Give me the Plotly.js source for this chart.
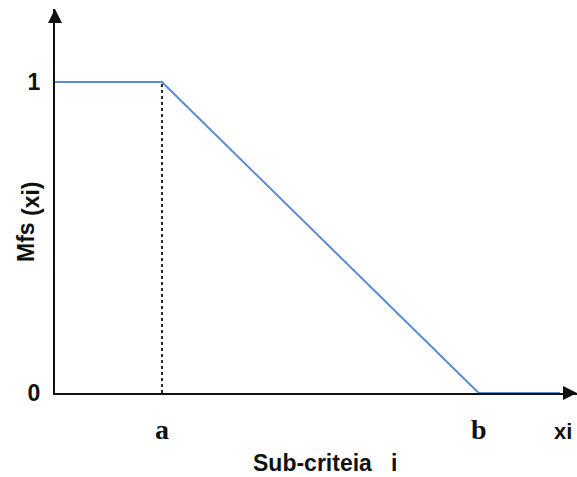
<!DOCTYPE html>
<html>
<head>
<meta charset="utf-8">
<script src="https://cdn.plot.ly/plotly-3.0.1.min.js"></script>
<style>html,body{margin:0;padding:0;background:#fff;}#chart{width:577px;height:477px;}</style>
</head>
<body>
<div id="chart"></div>
<script>
// Membership function values
const mfX = [0, 1, 3.96, 4.72];
const mfY = [1, 1, 0, 0];
// dashed guide at a
const guideX = [1, 1];
const guideY = [0, 1];
// tick labels
const xTickVals = [1, 3.96, 4.75];
const xTickText = ['a', 'b', '<span style="font-family:Liberation Sans, Arial, sans-serif;font-size:22px">xi</span>'];
const yTickVals = [0, 1];
const yTickText = ['0', '1'];
const xTitle = 'Sub-criteia\u00A0\u00A0\u00A0i';
const yTitle = 'Mfs<sub><span style="font-size:23px">\u00A0(xi)</span></sub>';

const xMax = 4.879, yMax = 1.235;

const traces = [
  {x: guideX, y: guideY, mode: 'lines', line: {color: '#111', width: 1.8, dash: 'dot'}, hoverinfo: 'skip'},
  {x: mfX, y: mfY, mode: 'lines', line: {color: '#5b8bd2', width: 2}, hoverinfo: 'skip'},
  // axis arrow heads
  {x: [0], y: [yMax], mode: 'markers', marker: {symbol: 'arrow-up', size: 14, color: '#111'}, cliponaxis: false, hoverinfo: 'skip'},
  {x: [xMax], y: [0], mode: 'markers', marker: {symbol: 'arrow-right', size: 14, color: '#111'}, cliponaxis: false, hoverinfo: 'skip'}
];

const layout = {
  width: 577, height: 477,
  margin: {l: 55, r: 0, t: 9, b: 84},
  paper_bgcolor: '#fff', plot_bgcolor: '#fff',
  showlegend: false,
  xaxis: {
    range: [0, xMax], showgrid: false, zeroline: false,
    showline: true, linecolor: '#111', linewidth: 2, layer: 'below traces',
    tickvals: xTickVals, ticktext: xTickText,
    ticks: 'outside', ticklen: 10, tickcolor: 'rgba(0,0,0,0)',
    tickfont: {family: 'Liberation Serif, Times New Roman, serif', size: 28, color: '#111', weight: 'bold'}
  },
  yaxis: {
    range: [0, yMax], showgrid: false, zeroline: false,
    showline: true, linecolor: '#111', linewidth: 2, layer: 'below traces',
    tickvals: yTickVals, ticktext: yTickText,
    ticks: 'outside', ticklen: 8, tickcolor: 'rgba(0,0,0,0)',
    tickfont: {family: 'Liberation Sans, Arial, sans-serif', size: 23, color: '#111', weight: 'bold'}
  },
  annotations: [
    {x: 2.52, y: 0, xref: 'x', yref: 'paper', yanchor: 'middle', xanchor: 'center', yshift: -70,
     text: xTitle, showarrow: false,
     font: {family: 'Liberation Sans, Arial, sans-serif', size: 23, color: '#111', weight: 'bold'}},
    {x: 0, y: 0.55, xref: 'paper', yref: 'y', xanchor: 'center', yanchor: 'middle', xshift: -26,
     text: yTitle, textangle: -90, showarrow: false,
     font: {family: 'Liberation Sans, Arial, sans-serif', size: 23, color: '#111', weight: 'bold'}}
  ]
};

Plotly.newPlot('chart', traces, layout, {displayModeBar: false, staticPlot: true});
</script>
</body>
</html>
